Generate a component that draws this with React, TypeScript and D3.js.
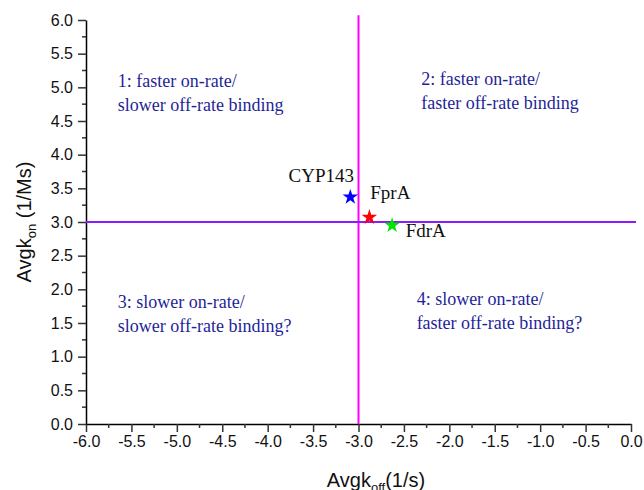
import React, { useEffect, useRef } from 'react';
import * as d3 from 'd3';

const proteins = ['CYP143', 'FprA', 'FdrA'];
const koffValues = [-3.09, -2.88, -2.63];
const konValues = [3.37, 3.07, 2.95];
const starColors = ['#0000ff', '#ff0000', '#00e600'];
// label anchor in data units
const labelX = [-3.77, -2.87, -2.48];
const labelY = [3.6, 3.34, 2.77];

const xTicks = [-6.0, -5.5, -5.0, -4.5, -4.0, -3.5, -3.0, -2.5, -2.0, -1.5, -1.0, -0.5, 0.0];
const yTicks = [0.0, 0.5, 1.0, 1.5, 2.0, 2.5, 3.0, 3.5, 4.0, 4.5, 5.0, 5.5, 6.0];

const quadrantNotes = [
  { x: -5.65, y: 5.0, lines: ['1: faster on-rate/', 'slower off-rate binding'] },
  { x: -2.31, y: 5.03, lines: ['2: faster on-rate/', 'faster off-rate binding'] },
  { x: -5.65, y: 1.73, lines: ['3: slower on-rate/', 'slower off-rate binding?'] },
  { x: -2.36, y: 1.76, lines: ['4: slower on-rate/', 'faster off-rate binding?'] },
];

const fmt = (d: number) => d.toFixed(1);

const App = () => {
  const svgRef = useRef<SVGSVGElement>(null);
  const width = 644;
  const height = 490;

  useEffect(() => {
    const svg = d3.select(svgRef.current);
    svg.selectAll('*').remove();

    const x = d3.scaleLinear().domain([-6, 0]).range([86, 631]);
    const y = d3.scaleLinear().domain([0, 6]).range([424, 20]);

    const minorX = d3.range(-5.75, 0, 0.5);
    const minorY = d3.range(0.25, 6, 0.5);

    // bottom axis
    const gx = svg.append('g').attr('transform', 'translate(0,424)');
    gx.call(d3.axisBottom(x).tickValues(xTicks).tickFormat(fmt as any).tickSize(8).tickSizeOuter(0))
      .call(g => g.select('.domain').attr('stroke', '#000').attr('stroke-width', 1.5))
      .call(g => g.selectAll('.tick line').attr('stroke', '#333').attr('stroke-width', 1.5))
      .call(g => g.selectAll('.tick text').attr('font-family', 'Liberation Sans, Arial, sans-serif')
        .attr('font-size', 16).attr('fill', '#111').attr('dy', '0.9em').attr('y', 9));
    gx.selectAll('line.minor').data(minorX).enter().append('line')
      .attr('x1', d => x(d)).attr('x2', d => x(d)).attr('y1', 0).attr('y2', 4)
      .attr('stroke', '#333').attr('stroke-width', 1.5);

    // left axis
    const gy = svg.append('g').attr('transform', 'translate(86,0)');
    gy.call(d3.axisLeft(y).tickValues(yTicks).tickFormat(fmt as any).tickSize(8).tickSizeOuter(0))
      .call(g => g.select('.domain').attr('stroke', '#000').attr('stroke-width', 1.5))
      .call(g => g.selectAll('.tick line').attr('stroke', '#333').attr('stroke-width', 1.5))
      .call(g => g.selectAll('.tick text').attr('font-family', 'Liberation Sans, Arial, sans-serif')
        .attr('font-size', 16).attr('fill', '#111').attr('x', -13));
    gy.selectAll('line.minor').data(minorY).enter().append('line')
      .attr('y1', d => y(d)).attr('y2', d => y(d)).attr('x1', 0).attr('x2', -4)
      .attr('stroke', '#333').attr('stroke-width', 1.5);

    // quadrant divider lines
    svg.append('line')
      .attr('x1', x(-3)).attr('x2', x(-3)).attr('y1', y(6.07)).attr('y2', y(0))
      .attr('stroke', '#ff00ff').attr('stroke-width', 2);
    svg.append('line')
      .attr('x1', x(-6)).attr('x2', 636).attr('y1', y(3)).attr('y2', y(3))
      .attr('stroke', '#8c1aff').attr('stroke-width', 2);

    // quadrant notes
    quadrantNotes.forEach(q => {
      const t = svg.append('text')
        .attr('font-family', 'Liberation Serif, Times New Roman, serif')
        .attr('font-size', 18).attr('fill', '#1f1f99');
      q.lines.forEach((line, i) => {
        t.append('tspan').attr('x', x(q.x)).attr('y', y(q.y) + i * 24).text(line);
      });
    });

    // stars
    const star = d3.symbol().type(d3.symbolStar).size(75);
    svg.selectAll('path.star').data(proteins).enter().append('path')
      .attr('class', 'star')
      .attr('d', star)
      .attr('transform', (d, i) => `translate(${x(koffValues[i])},${y(konValues[i])})`)
      .attr('fill', (d, i) => starColors[i]);

    svg.selectAll('text.plabel').data(proteins).enter().append('text')
      .attr('class', 'plabel')
      .attr('x', (d, i) => x(labelX[i]))
      .attr('y', (d, i) => y(labelY[i]))
      .attr('font-family', 'Liberation Serif, Times New Roman, serif')
      .attr('font-size', 19).attr('fill', '#111')
      .text(d => d);

    // axis titles
    const xt = svg.append('text')
      .attr('x', 376).attr('y', 487).attr('text-anchor', 'middle')
      .attr('font-family', 'Liberation Sans, Arial, sans-serif').attr('font-size', 20).attr('fill', '#111');
    xt.append('tspan').text('Avgk');
    xt.append('tspan').attr('font-size', 13).attr('dy', 5).text('off');
    xt.append('tspan').attr('dy', -5).text('(1/s)');

    const yt = svg.append('text')
      .attr('transform', `translate(31,${y(3)}) rotate(-90)`).attr('text-anchor', 'middle')
      .attr('font-family', 'Liberation Sans, Arial, sans-serif').attr('font-size', 20).attr('fill', '#111');
    yt.append('tspan').text('Avgk');
    yt.append('tspan').attr('font-size', 13).attr('dy', 5).text('on');
    yt.append('tspan').attr('dy', -5).text(' (1/Ms)');
  }, []);

  return (
    <svg ref={svgRef} width={width} height={height}
      style={{ position: 'absolute', left: 0, top: 0, background: '#fff' }} />
  );
};

export default App;
